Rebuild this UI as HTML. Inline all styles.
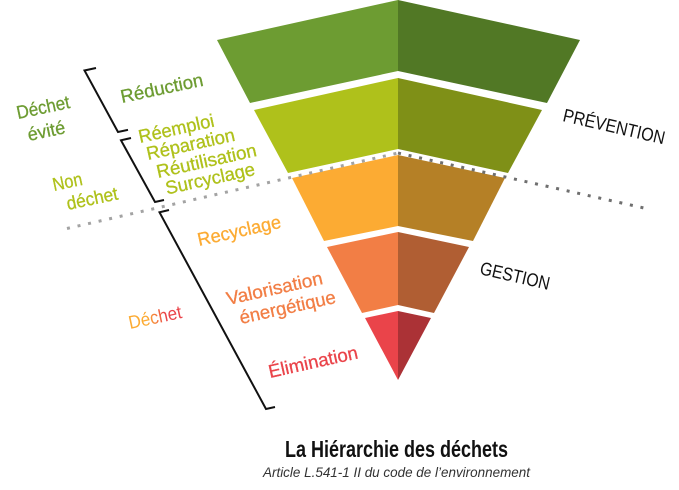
<!DOCTYPE html>
<html lang="fr">
<head>
<meta charset="utf-8">
<title>La Hiérarchie des déchets</title>
<style>
html,body{margin:0;padding:0;background:#fff}
svg{display:block}
text{font-family:"Liberation Sans",sans-serif;font-size:18.500px}
.b{stroke-width:.3px;paint-order:stroke}
</style>
</head>
<body>
<svg width="679" height="490" viewBox="0 0 679 490" xmlns="http://www.w3.org/2000/svg">
<defs>
<linearGradient id="g" x1="0" x2="1" y1="0" y2="0">
<stop offset="0.35" stop-color="#fcab33"/><stop offset="0.7" stop-color="#ea444a"/>
</linearGradient>
</defs>

<polygon points="217,40 398,0 398,71 250,103" fill="#6d9c32"/>
<polygon points="398,0 580,40 547,103 398,71" fill="#517825"/>
<polygon points="254,110 398,78 398,149 288,173" fill="#afc11b"/>
<polygon points="398,78 542,110 508,173 398,149" fill="#7f9017"/>
<polygon points="292,178 398,155 398,226 324,241" fill="#fcab33"/>
<polygon points="398,155 505,178 473,241 398,226" fill="#b58026"/>
<polygon points="327,247 398,232 398,305 362,313" fill="#f27e45"/>
<polygon points="398,232 469,247 434,313 398,305" fill="#b05e33"/>
<polygon points="365,318 398,311 398,380" fill="#ea444a"/>
<polygon points="398,311 431,318 398,380" fill="#ab3236"/>

<g fill="none" stroke-width="3" stroke-dasharray="3 7.800">
<line x1="67" y1="228.500" x2="398" y2="153" stroke="#a3a3a3"/>
<line x1="398" y1="153" x2="644" y2="208" stroke="#6f6f6f"/>
</g>

<g fill="none" stroke="#111" stroke-width="2">
<polyline points="96,68 84.500,70.500 118,132 128,129.800"/>
<polyline points="131,138 121,140.300 155,202 164,200"/>
<polyline points="169,210 159.500,212.300 266,409 275,407"/>
</g>

<g class="b" fill="#6d9c32" stroke="#6d9c32">
<text transform="translate(122,103) rotate(-12)" textLength="84" lengthAdjust="spacingAndGlyphs">Réduction</text>
<text transform="translate(18,119) rotate(-12)" textLength="54" lengthAdjust="spacingAndGlyphs">Déchet</text>
<text transform="translate(29,141) rotate(-12)" textLength="38" lengthAdjust="spacingAndGlyphs">évité</text>
</g>
<g class="b" fill="#afc11b" stroke="#afc11b">
<text transform="translate(140,143) rotate(-12.500)" textLength="77" lengthAdjust="spacingAndGlyphs">Réemploi</text>
<text transform="translate(148,160) rotate(-12.500)" textLength="90" lengthAdjust="spacingAndGlyphs">Réparation</text>
<text transform="translate(158,178) rotate(-12.500)" textLength="102" lengthAdjust="spacingAndGlyphs">Réutilisation</text>
<text transform="translate(167,194.500) rotate(-12.500)" textLength="91" lengthAdjust="spacingAndGlyphs">Surcyclage</text>
<text transform="translate(54,191) rotate(-12)" textLength="30" lengthAdjust="spacingAndGlyphs">Non</text>
<text transform="translate(68,210) rotate(-12)" textLength="52" lengthAdjust="spacingAndGlyphs">déchet</text>
</g>
<text class="b" transform="translate(199,246) rotate(-12.500)" textLength="85" lengthAdjust="spacingAndGlyphs" fill="#fcab33" stroke="#fcab33">Recyclage</text>
<g class="b" fill="#f27e45" stroke="#f27e45">
<text transform="translate(228,305) rotate(-12.500)" textLength="98" lengthAdjust="spacingAndGlyphs">Valorisation</text>
<text transform="translate(241,324) rotate(-12.500)" textLength="98" lengthAdjust="spacingAndGlyphs">énergétique</text>
</g>
<text class="b" transform="translate(270,378) rotate(-12.500)" textLength="91" lengthAdjust="spacingAndGlyphs" fill="#ea444a" stroke="#ea444a">Élimination</text>
<text transform="translate(130,329) rotate(-12)" textLength="54" lengthAdjust="spacingAndGlyphs" fill="url(#g)">Déchet</text>

<g fill="#111">
<text transform="translate(562,121) rotate(13)" textLength="104" lengthAdjust="spacingAndGlyphs">PRÉVENTION</text>
<text transform="translate(479,274) rotate(13)" textLength="71" lengthAdjust="spacingAndGlyphs">GESTION</text>
<text x="285" y="457" textLength="223" lengthAdjust="spacingAndGlyphs" style="font-size:23px;font-weight:bold">La Hiérarchie des déchets</text>
</g>
<text x="263" y="477" textLength="267" lengthAdjust="spacingAndGlyphs" fill="#333" style="font-size:14px;font-style:italic">Article L.541-1 II du code de l’environnement</text>
</svg>
</body>
</html>
